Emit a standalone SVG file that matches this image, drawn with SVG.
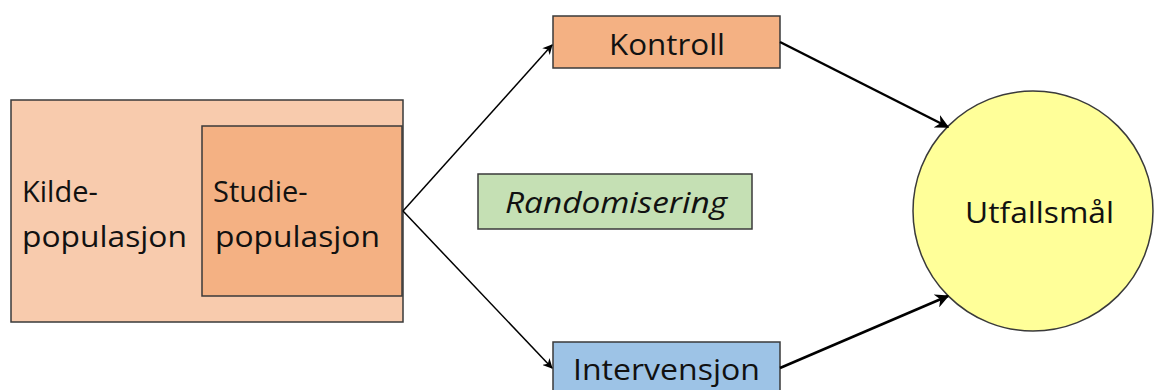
<svg xmlns="http://www.w3.org/2000/svg" width="1154" height="390" viewBox="0 0 1154 390">
<defs>
<marker id="ah" viewBox="0 0 10 10" refX="9" refY="5" markerWidth="10" markerHeight="10" markerUnits="userSpaceOnUse" orient="auto">
<path d="M0,0 L10,5 L0,10 L3,5 Z" fill="#000"/>
</marker>
<marker id="ah2" viewBox="0 0 10 10" refX="9" refY="5" markerWidth="14" markerHeight="14" markerUnits="userSpaceOnUse" orient="auto">
<path d="M0,0 L10,5 L0,10 L3,5 Z" fill="#000"/>
</marker>
</defs>
<style>
.box{stroke:#3a3a3a;stroke-width:1.5}
.t{font-family:"Open Sans","Noto Sans",sans-serif;font-size:29px;fill:#111}
.c{stroke:#000;fill:none}
</style>
<rect width="1154" height="390" fill="#fff"/>
<g id="kildepopulasjon">
<rect class="box" x="11" y="100" width="392" height="222" fill="#F8CBAD"/>
<text class="t" x="22" y="202">Kilde-</text>
<text class="t" x="22" y="247" textLength="165" lengthAdjust="spacingAndGlyphs">populasjon</text>
</g>
<g id="studiepopulasjon">
<rect class="box" x="202" y="126" width="200" height="170" fill="#F4B183"/>
<text class="t" x="213" y="202">Studie-</text>
<text class="t" x="215" y="247" textLength="165" lengthAdjust="spacingAndGlyphs">populasjon</text>
</g>
<g id="kontroll">
<rect class="box" x="553" y="16" width="227" height="52" fill="#F4B183"/>
<text class="t" x="609" y="55" textLength="116" lengthAdjust="spacingAndGlyphs">Kontroll</text>
</g>
<g id="randomisering">
<rect class="box" x="478" y="174" width="274" height="55" fill="#C5E0B4"/>
<text class="t" x="505" y="213" font-style="italic" textLength="222" lengthAdjust="spacingAndGlyphs">Randomisering</text>
</g>
<g id="intervensjon">
<rect class="box" x="553" y="342" width="227" height="60" fill="#9DC3E6"/>
<text class="t" x="573" y="380" textLength="187" lengthAdjust="spacingAndGlyphs">Intervensjon</text>
</g>
<g id="utfallsmaal">
<circle class="box" cx="1033" cy="211" r="120" fill="#FFFF99"/>
<text class="t" x="965" y="223" textLength="149" lengthAdjust="spacingAndGlyphs">Utfallsmål</text>
</g>
<g id="connectors">
<line class="c" stroke-width="1.5" x1="403" y1="211" x2="552" y2="45" marker-end="url(#ah)"/>
<line class="c" stroke-width="1.5" x1="403" y1="211" x2="552" y2="368" marker-end="url(#ah)"/>
<line class="c" stroke-width="2.5" x1="780" y1="42" x2="948" y2="127" marker-end="url(#ah2)"/>
<line class="c" stroke-width="2.5" x1="780" y1="368" x2="948" y2="296" marker-end="url(#ah2)"/>
</g>
</svg>
